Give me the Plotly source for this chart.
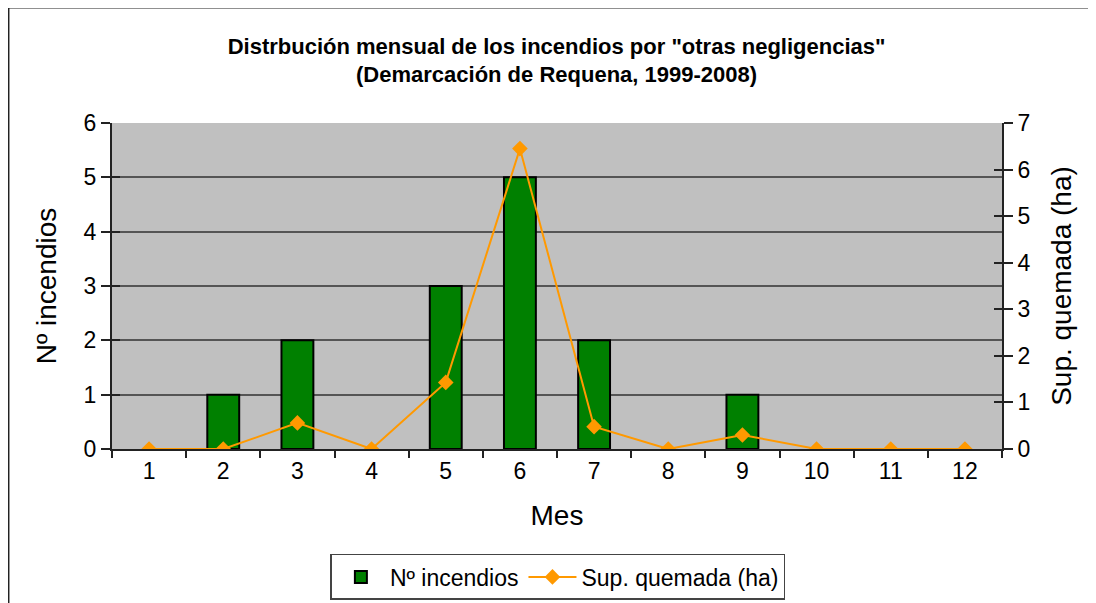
import plotly.graph_objects as go

months = [1, 2, 3, 4, 5, 6, 7, 8, 9, 10, 11, 12]
n_incendios = [0, 1, 2, 0, 3, 5, 2, 0, 1, 0, 0, 0]
sup_quemada = [0, 0, 0.56, 0, 1.43, 6.45, 0.48, 0, 0.3, 0, 0, 0]

FONT = "Liberation Sans Narrow, Arial Narrow, Liberation Sans, Arial, sans-serif"
AX = "#222222"
GRID = "#555555"
BAR_COLOR = "#008000"

bar_outline = [2 if v > 0 else 0 for v in n_incendios]

fig = go.Figure()
fig.add_trace(go.Bar(
    x=months, y=n_incendios, name="Nº incendios", showlegend=False,
    marker=dict(color=BAR_COLOR, line=dict(color="black", width=bar_outline)),
    width=0.43, yaxis="y"))
# legend entry for the bars (outlined swatch)
fig.add_trace(go.Bar(
    x=[None], y=[None], name="Nº incendios",
    marker=dict(color=BAR_COLOR, line=dict(color="black", width=2)), yaxis="y"))
fig.add_trace(go.Scatter(
    x=months, y=sup_quemada, name="Sup. quemada (ha)", mode="lines+markers",
    line=dict(color="#FF9900", width=2),
    marker=dict(symbol="diamond", size=12, color="#FF9900"),
    yaxis="y2"))
# helper empty traces so overlay axes (crossing ticks) are drawn
fig.add_trace(go.Scatter(x=[], y=[], xaxis="x3", yaxis="y", showlegend=False, hoverinfo="skip"))
fig.add_trace(go.Scatter(x=[], y=[], xaxis="x", yaxis="y3", showlegend=False, hoverinfo="skip"))
fig.add_trace(go.Scatter(x=[], y=[], xaxis="x", yaxis="y4", showlegend=False, hoverinfo="skip"))

xr = [0.5, 12.5]
fig.update_layout(
    width=1096, height=603,
    margin=dict(l=104, r=102, t=115, b=162, autoexpand=False),
    paper_bgcolor="white", plot_bgcolor="#C0C0C0",
    font=dict(family=FONT, size=23, color="black"),
    barmode="overlay",
    title=dict(
        text="<b>Distrbución mensual de los incendios por \"otras negligencias\"<br>(Demarcación de Requena, 1999-2008)</b>",
        x=0.5005, xanchor="center", y=0.924, yanchor="top",
        font=dict(family=FONT, size=22, color="black")),
    xaxis=dict(
        range=xr, tickvals=months, ticktext=[str(m) for m in months],
        ticks="outside", ticklen=0, showgrid=False, automargin=False,
        showline=True, linecolor=AX, linewidth=2, zeroline=False,
        title=dict(text="Mes", standoff=23), tickfont=dict(size=23)),
    xaxis3=dict(
        overlaying="x", anchor="y", range=xr, tick0=0.5, dtick=1, automargin=False,
        ticks="outside", ticklen=8, tickwidth=1.5, tickcolor=AX,
        showticklabels=False, showgrid=False, zeroline=False, showline=False),
    yaxis=dict(
        range=[0, 6], dtick=1, ticks="outside", ticklen=9, tickwidth=1.5, tickcolor=AX,
        showgrid=True, gridcolor=GRID, gridwidth=1.5, automargin=False,
        showline=True, linecolor=AX, linewidth=2, zeroline=False,
        title=dict(text="Nº incendios", standoff=19), tickfont=dict(size=23)),
    yaxis2=dict(
        overlaying="y", side="right", range=[0, 7], dtick=1, automargin=False,
        ticks="outside", ticklen=9, tickwidth=1.5, tickcolor=AX,
        showgrid=False, showline=True, linecolor=AX, linewidth=2, zeroline=False,
        title=dict(text="Sup. quemada (ha)", standoff=22), tickfont=dict(size=23)),
    yaxis3=dict(
        overlaying="y", side="right", anchor="x", range=[0, 7], dtick=1, automargin=False,
        ticks="inside", ticklen=8, tickwidth=1.5, tickcolor=AX,
        showticklabels=False, showgrid=False, zeroline=False, showline=False),
    yaxis4=dict(
        overlaying="y", side="left", anchor="x", range=[0, 6], dtick=1, automargin=False,
        ticks="inside", ticklen=8, tickwidth=1.5, tickcolor=AX,
        showticklabels=False, showgrid=False, zeroline=False, showline=False),
    legend=dict(
        orientation="h", x=0.501, xanchor="center", y=-0.322, yanchor="top",
        bordercolor="#444444", borderwidth=1.5, bgcolor="white",
        font=dict(size=23), tracegroupgap=0, itemwidth=48),
    shapes=[dict(type="rect", xref="paper", yref="paper",
                 x0=-0.1169, x1=1.3, y0=-0.7, y1=1.356,
                 line=dict(color="#222222", width=3), fillcolor="rgba(0,0,0,0)",
                 layer="below")],
)
fig.write_html("out.html")
